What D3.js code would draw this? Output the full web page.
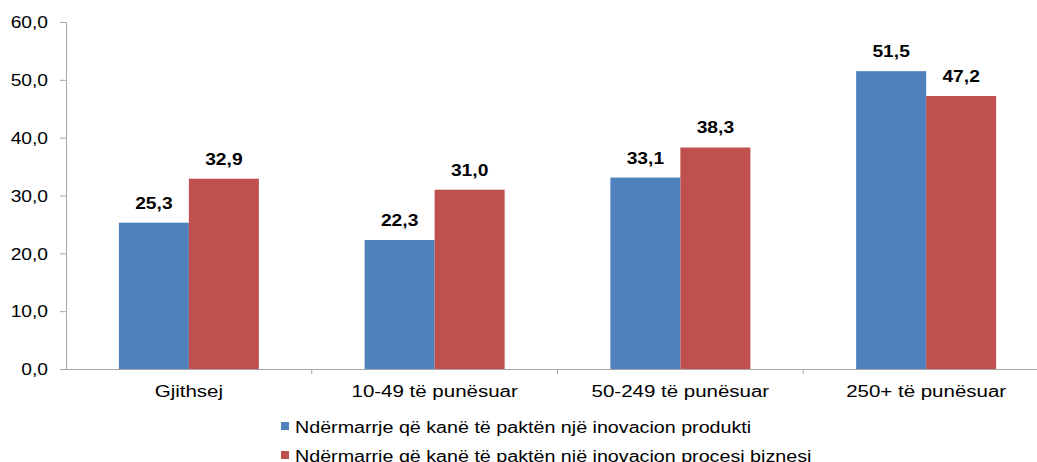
<!DOCTYPE html>
<meta charset="utf-8">
<title>Inovacioni sipas madhësisë</title>
<style>
body { margin: 0; background: #fff; }
text { font-family: "Liberation Sans", Arial, sans-serif; fill: #000; }
.axis path, .axis line { stroke: #a6a6a6; }
</style>
<svg width="1037" height="462"></svg>
<script src="https://cdn.jsdelivr.net/npm/d3@7/dist/d3.min.js"></script>
<script>
var categories = ["Gjithsej", "10-49 të punësuar", "50-249 të punësuar", "250+ të punësuar"]
var seriesNames = [
	"Ndërmarrje që kanë të paktën një inovacion produkti",
	"Ndërmarrje që kanë të paktën një inovacion procesi biznesi"
]
var produkti = [25.3, 22.3, 33.1, 51.5]
var procesi = [32.9, 31.0, 38.3, 47.2]
var yTicks = [0, 10, 20, 30, 40, 50, 60]
var colors = ["#4f81bd", "#c0504d"]

var svg = d3.select("svg")
var plotLeft = 66, plotTop = 22, plotBottom = 369, plotRight = 1049

var x = d3.scaleBand().domain(categories).range([plotLeft, plotRight])
var x1 = d3.scaleBand().domain([0, 1]).range([0, 140])
var y = d3.scaleLinear().domain([0, 60]).range([plotBottom, plotTop])

var fmt = function(v) { return v.toFixed(1).replace(".", ",") }

// the original's text is drawn a bit wider than Arial, so stretch it
function stretch(sel, k) {
	sel.each(function() {
		var w = this.getComputedTextLength()
		d3.select(this).attr("textLength", w * k).attr("lengthAdjust", "spacingAndGlyphs")
	})
}

// y axis
var yAxis = svg.append("g")
	.attr("class", "axis")
	.attr("transform", "translate(" + plotLeft + ",0)")
	.call(d3.axisLeft(y).tickValues(yTicks).tickSize(6).tickSizeOuter(0).tickFormat(fmt))
yAxis.selectAll("text").attr("font-size", 16).attr("fill", "#000").attr("x", -18).attr("dy", "0.36em")
	.call(stretch, 1.2)

var rows = categories.map(function(c, i) { return { cat: c, vals: [produkti[i], procesi[i]] } })

var groups = svg.selectAll(".grp")
	.data(rows)
	.enter().append("g")
		.attr("class", "grp")
		.attr("transform", function(d) { return "translate(" + (x(d.cat) + x.bandwidth() / 2 - 70) + ",0)" })

groups.selectAll("rect")
	.data(function(d) { return d.vals })
	.enter().append("rect")
		.attr("x", function(d, i) { return x1(i) })
		.attr("width", x1.bandwidth())
		.attr("y", function(d) { return y(d) })
		.attr("height", function(d) { return plotBottom - y(d) })
		.attr("fill", function(d, i) { return colors[i] })

groups.selectAll(".lbl")
	.data(function(d) { return d.vals })
	.enter().append("text")
		.attr("class", "lbl")
		.attr("x", function(d, i) { return x1(i) + x1.bandwidth() / 2 })
		.attr("y", function(d) { return y(d) - 14 })
		.attr("text-anchor", "middle")
		.attr("font-size", 16)
		.attr("font-weight", "bold")
		.text(fmt)
		.call(stretch, 1.2)

// x axis
var xAxis = svg.append("g")
	.attr("class", "axis")
	.attr("transform", "translate(0," + plotBottom + ")")
	.call(d3.axisBottom(x).tickSize(0).tickSizeOuter(0))
xAxis.selectAll("text").attr("font-size", 16).attr("fill", "#000").attr("y", 28).attr("dy", 0)
	.call(stretch, 1.28)
xAxis.selectAll(".sep")
	.data(categories.slice(1))
	.enter().append("line")
		.attr("class", "sep")
		.attr("x1", function(d) { return x(d) })
		.attr("x2", function(d) { return x(d) })
		.attr("y1", 0).attr("y2", 5)
		.attr("stroke", "#a6a6a6")

// legend
var legend = svg.selectAll(".leg")
	.data(seriesNames)
	.enter().append("g")
		.attr("class", "leg")
		.attr("transform", function(d, i) { return "translate(281," + (422 + i * 29) + ")" })
legend.append("rect").attr("width", 8).attr("height", 8).attr("fill", function(d, i) { return colors[i] })
legend.append("text").attr("x", 14).attr("y", 11).attr("font-size", 16).text(function(d) { return d })
	.call(stretch, 1.23)
</script>
